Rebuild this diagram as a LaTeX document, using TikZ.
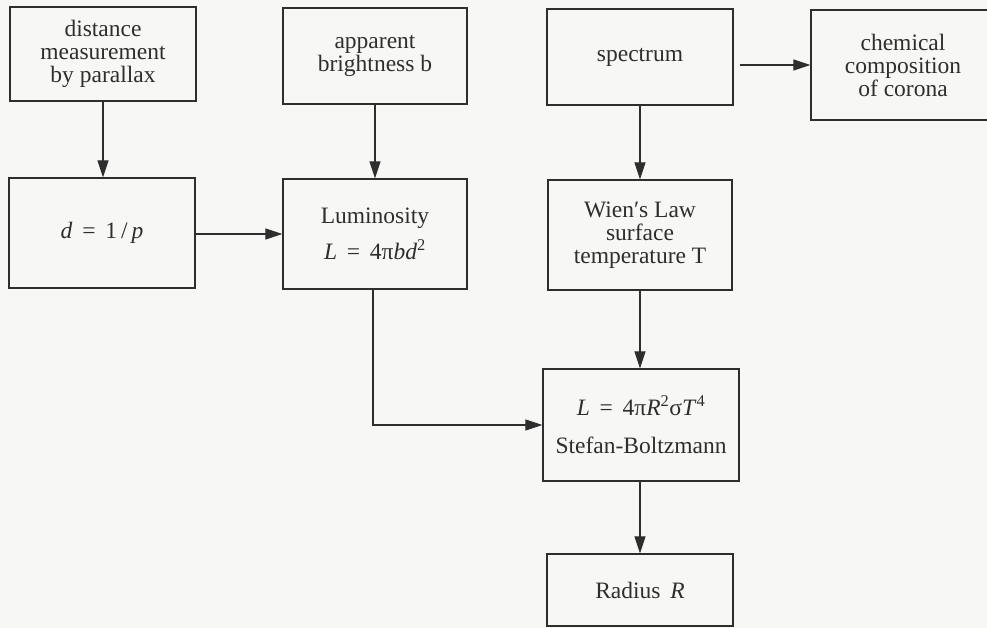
\documentclass[tikz,border=0pt]{standalone}
\usepackage{fontspec}
\setmainfont{Liberation Serif}
\usetikzlibrary{arrows.meta}
\definecolor{ink}{HTML}{2E2E2E}
\definecolor{paper}{HTML}{F7F7F5}
\begin{document}
\begin{tikzpicture}[x=1pt,y=-1pt,
  box/.style={draw=ink, line width=1.3pt, rectangle, inner sep=0pt, align=center,
    font=\fontsize{23.5}{23}\selectfont, text=ink},
  arr/.style={draw=ink, line width=1.2pt, -{Triangle[length=17pt,width=11pt]}}]
\fill[paper] (0,0) rectangle (987,628);
\useasboundingbox (0,0) rectangle (987,628);
\node[box, minimum width=186pt, minimum height=94pt] (dist) at (103,54) {distance\\measurement\\by parallax};
\node[box, minimum width=184pt, minimum height=96pt] (app) at (375,56) {apparent\\brightness b};
\node[box, minimum width=186pt, minimum height=96pt] (spec) at (640,57) {spectrum};
\node[box, minimum width=184pt, minimum height=110pt] (chem) at (903,65) {chemical\\composition\\of corona};
\node[box, minimum width=186pt, minimum height=110pt] (dp) at (102,233) {\textit{d}\, = \,1\,/\,\textit{p}};
\node[box, minimum width=184pt, minimum height=110pt] (lum) at (375,234) {Luminosity\\[10pt]\textit{L}\, = \,4π\textit{bd}\textsuperscript{2}};
\node[box, minimum width=184pt, minimum height=110pt] (wien) at (640,235) {Wien\char"2032 s Law\\surface\\temperature T};
\node[box, minimum width=196pt, minimum height=112pt] (sb) at (641,425) {\textit{L}\, = \,4π\textit{R}\textsuperscript{2}σ\textit{T}\textsuperscript{4}\\[15pt]Stefan-Boltzmann};
\node[box, minimum width=186pt, minimum height=72pt] (rad) at (640,590) {Radius\, \textit{R}};
\coordinate (bend) at (373,425);
\draw[arr] (dist.south) -- (dp.north -| dist.south);
\draw[arr] (app.south) -- (lum.north);
\draw[arr] (spec.south) -- (wien.north);
\draw[arr] ([xshift=6pt]spec.east |- chem.west) -- (chem.west);
\draw[arr] (dp.east |- 0,234) -- (lum.west);
\draw[arr] (lum.south -| bend) -- (bend) -- (sb.west |- bend);
\draw[arr] (wien.south) -- (wien.south |- sb.north);
\draw[arr] (sb.south -| rad.north) -- (rad.north);
\end{tikzpicture}
\end{document}
